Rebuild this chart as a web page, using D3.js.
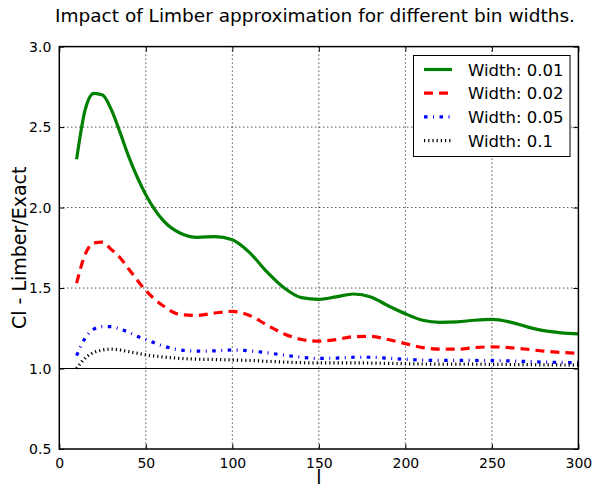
<!DOCTYPE html>
<html><head><meta charset="utf-8">
<script src="https://cdn.jsdelivr.net/npm/d3@7"></script>
<style>
html,body{margin:0;padding:0;background:#fff;}
svg text{font-family:"DejaVu Sans",sans-serif;}
</style></head>
<body><svg id="c" width="593" height="489"></svg>
<script>
const ells = [10,15,20,25,30,35,40,45,50,60,70,80,90,100,110,120,130,140,150,160,170,180,190,200,210,220,230,240,250,260,270,280,290,300];
const width001 = [2.30,2.61,2.71,2.70,2.61,2.47,2.32,2.19,2.08,1.92,1.84,1.815,1.82,1.80,1.72,1.60,1.50,1.44,1.43,1.445,1.463,1.445,1.39,1.34,1.30,1.287,1.29,1.30,1.305,1.29,1.26,1.235,1.222,1.215];
const width002 = [1.53,1.71,1.78,1.785,1.74,1.69,1.62,1.55,1.485,1.39,1.335,1.33,1.345,1.355,1.33,1.27,1.215,1.18,1.17,1.18,1.198,1.20,1.18,1.155,1.13,1.12,1.12,1.13,1.135,1.13,1.12,1.108,1.10,1.095];
const width005 = [1.08,1.19,1.245,1.26,1.26,1.245,1.225,1.20,1.18,1.14,1.115,1.108,1.11,1.115,1.11,1.098,1.083,1.07,1.063,1.065,1.07,1.07,1.064,1.057,1.052,1.05,1.05,1.05,1.049,1.047,1.044,1.04,1.038,1.036];
const width01 = [1.00,1.065,1.10,1.115,1.12,1.115,1.105,1.095,1.085,1.072,1.063,1.058,1.056,1.053,1.05,1.045,1.04,1.036,1.035,1.035,1.035,1.034,1.032,1.03,1.028,1.027,1.027,1.027,1.026,1.025,1.024,1.023,1.022,1.021];
const seriesNames = ["Width: 0.01","Width: 0.02","Width: 0.05","Width: 0.1"];
const xTicks = [0,50,100,150,200,250,300];
const yTicks = [0.5,1.0,1.5,2.0,2.5,3.0];

const svg = d3.select("#c");
const L=59.3, R=578.4, T=46.6, B=449;
const x = d3.scaleLinear().domain([0,300]).range([L,R]);
const y = d3.scaleLinear().domain([0.5,3.0]).range([B,T]);

// grid
const g = svg.append("g");
g.selectAll(".gx").data(xTicks.slice(1,-1)).enter().append("line")
 .attr("x1",d=>x(d)).attr("x2",d=>x(d)).attr("y1",T).attr("y2",B)
 .attr("stroke","#000").attr("stroke-width",1).attr("stroke-dasharray","1,3");
g.selectAll(".gy").data(yTicks.slice(1,-1)).enter().append("line")
 .attr("y1",d=>y(d)).attr("y2",d=>y(d)).attr("x1",L).attr("x2",R)
 .attr("stroke","#000").attr("stroke-width",1).attr("stroke-dasharray","1,3");

// horizontal line at 1
svg.append("line").attr("x1",L).attr("x2",R).attr("y1",y(1)).attr("y2",y(1))
 .attr("stroke","#000").attr("stroke-width",1.2);

const styles = [
 {c:"#008000",d:null},
 {c:"#ff0000",d:"9,6"},
 {c:"#0000ff",d:"3.5,5.5,1,5.5"},
 {c:"#000000",d:"1.2,3"}
];
const data = [width001,width002,width005,width01];
const line = d3.line().x((d,i)=>x(ells[i])).y(d=>y(d)).curve(d3.curveMonotoneX);
data.forEach((s,k)=>{
  svg.append("path").attr("d",line(s)).attr("fill","none")
   .attr("stroke",styles[k].c).attr("stroke-width",3.2)
   .attr("stroke-dasharray",styles[k].d);
});

// axes
const ax = svg.append("g").attr("transform",`translate(0,${B})`)
 .call(d3.axisBottom(x).tickValues(xTicks).tickSize(-5).tickPadding(9).tickFormat(d3.format("d")));
const axT = svg.append("g").attr("transform",`translate(0,${T})`)
 .call(d3.axisTop(x).tickValues(xTicks).tickSize(-5).tickFormat(""));
const ay = svg.append("g").attr("transform",`translate(${L},0)`)
 .call(d3.axisLeft(y).tickValues(yTicks).tickSize(-5).tickPadding(8).tickFormat(d3.format(".1f")));
const ayR = svg.append("g").attr("transform",`translate(${R},0)`)
 .call(d3.axisRight(y).tickValues(yTicks).tickSize(-5).tickFormat(""));
[ax,axT,ay,ayR].forEach(a=>{
  a.select(".domain").remove();
  a.selectAll("line").attr("stroke","#000");
  a.selectAll("text").attr("font-size",14).attr("fill","#000").attr("font-family","DejaVu Sans");
});
svg.append("rect").attr("x",L).attr("y",T).attr("width",R-L).attr("height",B-T)
 .attr("fill","none").attr("stroke","#000").attr("stroke-width",1.5);

// title & labels
svg.append("text").attr("x",315).attr("y",22).attr("text-anchor","middle")
 .attr("font-size",18.5).text("Impact of Limber approximation for different bin widths.");
svg.append("text").attr("x",(L+R)/2).attr("y",484).attr("text-anchor","middle")
 .attr("font-size",19).text("l");
svg.append("text").attr("transform",`translate(26,${(T+B)/2}) rotate(-90)`).attr("text-anchor","middle")
 .attr("font-size",19).text("Cl - Limber/Exact");

// legend
const lg = svg.append("g");
lg.append("rect").attr("x",413.5).attr("y",55.5).attr("width",156.5).attr("height",101)
 .attr("fill","#fff").attr("stroke","#000").attr("stroke-width",1);
seriesNames.forEach((n,k)=>{
  const yy = 69.5 + k*23.7;
  lg.append("line").attr("x1",424).attr("x2",452).attr("y1",yy).attr("y2",yy)
   .attr("stroke",styles[k].c).attr("stroke-width",3.2).attr("stroke-dasharray",styles[k].d);
  lg.append("text").attr("x",468).attr("y",yy+6).attr("font-size",16.5).text(n);
});
</script></body></html>
